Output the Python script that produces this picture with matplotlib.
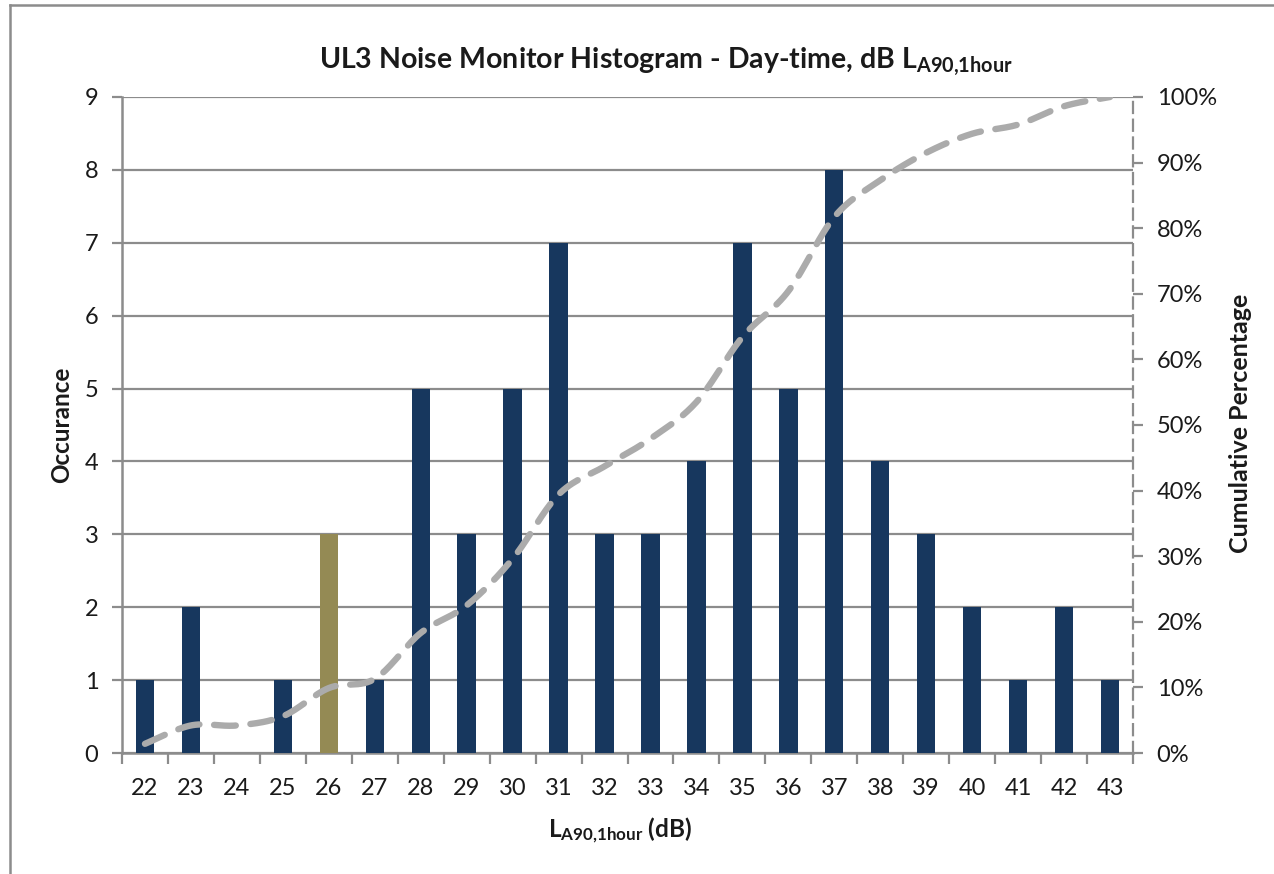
import numpy as np
import matplotlib
matplotlib.use("Agg")
import matplotlib.pyplot as plt
from matplotlib.lines import Line2D
from matplotlib.ticker import FuncFormatter, FixedLocator

plt.rcParams['font.family'] = ['Lato', 'DejaVu Sans']
plt.rcParams['mathtext.fontset'] = 'custom'
plt.rcParams['mathtext.rm'] = 'Lato'
plt.rcParams['mathtext.bf'] = 'Lato:bold'
plt.rcParams['mathtext.it'] = 'Lato:italic'

# ---- data ----
levels = [22, 23, 24, 25, 26, 27, 28, 29, 30, 31, 32, 33, 34, 35, 36, 37, 38, 39, 40, 41, 42, 43]
occurrence = [1, 2, 0, 1, 3, 1, 5, 3, 5, 7, 3, 3, 4, 7, 5, 8, 4, 3, 2, 1, 2, 1]
cumulative_pct = [1.4, 4.2, 4.2, 5.6, 9.9, 11.3, 18.3, 22.5, 29.6, 39.4, 43.7, 47.9,
                  53.5, 63.4, 70.4, 81.7, 87.3, 91.5, 94.4, 95.8, 98.6, 100.0]
highlight_level = 26
y_ticks = [0, 1, 2, 3, 4, 5, 6, 7, 8, 9]
pct_ticks = [0, 10, 20, 30, 40, 50, 60, 70, 80, 90, 100]

NAVY = '#17375E'
OLIVE = '#948A54'
GRID = '#8C8C8C'
LINEC = '#ABABAB'
TXT = '#1a1a1a'
TICKFS = 17

W, H = 1274, 874
fig = plt.figure(figsize=(W / 100, H / 100), dpi=100)
fig.patch.set_facecolor('white')

# chart-area border (left & top visible)
fig.add_artist(Line2D([10 / W, 10 / W], [0, 1 - 5 / H], transform=fig.transFigure, color='#8C8C8C', lw=1.8))
fig.add_artist(Line2D([10 / W, 1], [1 - 5 / H, 1 - 5 / H], transform=fig.transFigure, color='#8C8C8C', lw=1.8))

L, R, T, B = 122, 1133, 97, 753
ax = fig.add_axes([L / W, 1 - B / H, (R - L) / W, (B - T) / H])
x = np.arange(len(levels))
colors = [OLIVE if lv == highlight_level else NAVY for lv in levels]
ax.bar(x, occurrence, width=0.4, color=colors, zorder=3)
ax.set_xlim(-0.5, len(levels) - 0.5)
ax.set_ylim(0, 9)
ax.set_yticks(y_ticks)
ax.yaxis.grid(True, color=GRID, lw=1.6, zorder=0)
ax.set_axisbelow(True)

# x ticks: marks at boundaries, labels at centres
ax.xaxis.set_major_locator(FixedLocator(list(x)))
ax.set_xticklabels([str(v) for v in levels])
ax.xaxis.set_minor_locator(FixedLocator(list(np.arange(-0.5, len(levels), 1.0))))
ax.tick_params(axis='x', which='major', length=0, pad=18, labelsize=TICKFS, labelcolor=TXT)
ax.tick_params(axis='x', which='minor', length=8, width=1.6, color=GRID, direction='out')
ax.tick_params(axis='y', which='major', length=7, width=1.6, color=GRID, direction='out',
               pad=10, labelsize=TICKFS, labelcolor=TXT)

for s in ['top', 'right']:
    ax.spines[s].set_visible(False)
for s in ['left', 'bottom']:
    ax.spines[s].set_color(GRID)
    ax.spines[s].set_linewidth(1.8)

# secondary axis (cumulative)
ax2 = ax.twinx()
ax2.set_ylim(0, 100)
ax2.set_yticks(pct_ticks)
ax2.yaxis.set_major_formatter(FuncFormatter(lambda v, p: f"{int(v)}%"))
ax2.tick_params(axis='y', length=7, width=1.6, color=GRID, direction='out', pad=10,
                labelsize=TICKFS, labelcolor=TXT)
for s in ['top', 'left', 'bottom']:
    ax2.spines[s].set_visible(False)
ax2.spines['right'].set_color(GRID)
ax2.spines['right'].set_linewidth(1.6)
ax2.spines['right'].set_linestyle((0, (5, 3)))

# smoothed curve (display smoothing only, through the data points)
def smooth(xs, ys, n=30):
    xs = np.asarray(xs, float); ys = np.asarray(ys, float)
    px, py = [], []
    for i in range(len(xs) - 1):
        p0 = np.array([xs[max(i - 1, 0)], ys[max(i - 1, 0)]])
        p1 = np.array([xs[i], ys[i]])
        p2 = np.array([xs[i + 1], ys[i + 1]])
        p3 = np.array([xs[min(i + 2, len(xs) - 1)], ys[min(i + 2, len(xs) - 1)]])
        c1 = p1 + (p2 - p0) / 6.0
        c2 = p2 - (p3 - p1) / 6.0
        t = np.linspace(0, 1, n, endpoint=(i == len(xs) - 2))[:, None]
        pts = (1 - t) ** 3 * p1 + 3 * (1 - t) ** 2 * t * c1 + 3 * (1 - t) * t ** 2 * c2 + t ** 3 * p2
        px.extend(pts[:, 0]); py.extend(pts[:, 1])
    return np.array(px), np.array(py)

sx, sy = smooth(x, cumulative_pct)
ax2.plot(sx, sy, color=LINEC, lw=4.6, linestyle=(0, (3.4, 2.3)), dash_capstyle='round',
         solid_capstyle='round', zorder=5)

# labels
fig.text(666 / W, 1 - 62 / H, r"UL3 Noise Monitor Histogram - Day-time, dB L$_{\mathbf{A90{,}1hour}}$",
         ha='center', va='center', fontsize=20.5, fontweight='bold', color=TXT)
fig.text(620 / W, 1 - 830 / H, r"L$_{\mathbf{A90{,}1hour}}$ (dB)", ha='center', va='center',
         fontsize=17.5, fontweight='bold', color=TXT)
fig.text(62 / W, 1 - 425 / H, "Occurance", rotation=90, ha='center', va='center',
         fontsize=17.5, fontweight='bold', color=TXT)
fig.text(1240 / W, 1 - 423 / H, "Cumulative Percentage", rotation=90, ha='center', va='center',
         fontsize=18, fontweight='bold', color=TXT)

fig.savefig("out.png", dpi=100, facecolor='white')
